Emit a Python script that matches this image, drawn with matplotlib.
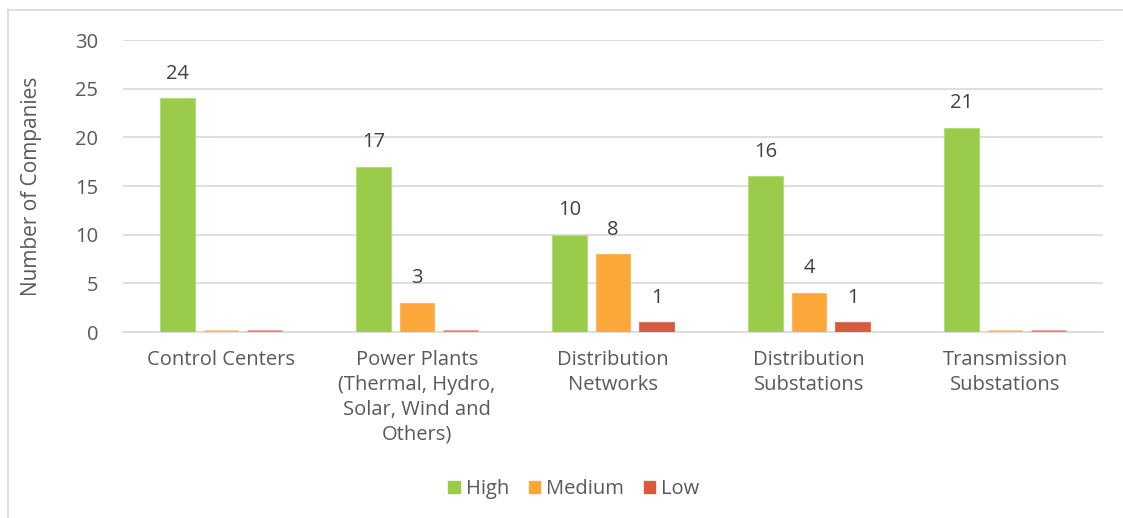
import matplotlib.pyplot as plt
import numpy as np
from matplotlib.lines import Line2D

categories = ['Control Centers', 'Power Plants\n(Thermal, Hydro,\nSolar, Wind and\nOthers)',
              'Distribution\nNetworks', 'Distribution\nSubstations', 'Transmission\nSubstations']
high = [24, 17, 10, 16, 21]
medium = [0, 3, 8, 4, 0]
low = [0, 0, 1, 1, 0]

series = [('High', high, '#9BCB4B', '#B5DC7A'),
          ('Medium', medium, '#FBA73A', '#FBB860'),
          ('Low', low, '#D65A3E', '#DC735C')]

plt.rcParams['font.family'] = ['Open Sans', 'DejaVu Sans']
grey = '#595959'
fs = 14.5

fig = plt.figure(figsize=(11.23, 5.18), dpi=100)
ax = fig.add_axes([123 / 1123, 1 - 332 / 518, 980 / 1123, 292 / 518])

x = np.arange(len(categories))
w = 0.174
step = 0.222
for i, (name, vals, col, edge) in enumerate(series):
    pos = x + (i - 1) * step
    for p, v in zip(pos, vals):
        if v == 0:
            # Excel keeps a faint stub for empty values
            ax.plot([p - w / 2, p + w / 2], [0.12, 0.12], color=col, lw=2, alpha=0.6,
                    solid_capstyle='butt', zorder=3)
        else:
            ax.bar(p, v, width=w, color=col, edgecolor=edge, linewidth=0.8, zorder=3)
            ax.text(p, v + 1.5, str(v), ha='center', va='bottom', fontsize=fs, color='#404040')

ax.set_xlim(-0.5, len(categories) - 0.5)
ax.set_ylim(0, 30)
ax.set_yticks(range(0, 31, 5))
ax.yaxis.grid(True, color='#D9D9D9', lw=1.2, zorder=0)
for s in ['top', 'right', 'left']:
    ax.spines[s].set_visible(False)
ax.spines['bottom'].set_color('#D9D9D9')
ax.spines['bottom'].set_linewidth(1.2)
ax.tick_params(length=0, colors=grey, labelsize=fs)
ax.tick_params(axis='y', pad=18)
ax.set_xticks(x)
ax.set_xticklabels(categories, fontsize=fs, color=grey, linespacing=1.33, va='top')
ax.tick_params(axis='x', pad=13)
ax.set_ylabel('Number of Companies', fontsize=fs + 0.5, color=grey)
ax.yaxis.set_label_coords(-(123 - 42) / 980, 0.5)

handles = [plt.Rectangle((0, 0), 1, 1, color=c) for _, _, c, _ in series]
fig.legend(handles, [s[0] for s in series], loc='center', bbox_to_anchor=(574 / 1123, 1 - 489 / 518),
           ncol=3, frameon=False, fontsize=fs, handlelength=0.55, handleheight=0.55,
           handletextpad=0.3, columnspacing=1.0, labelcolor=grey)

# chart border (top and left edges visible)
fig.add_artist(Line2D([8 / 1123, 1], [1 - 10 / 518, 1 - 10 / 518], color='#D9D9D9', lw=1.2))
fig.add_artist(Line2D([8 / 1123, 8 / 1123], [0, 1 - 10 / 518], color='#D9D9D9', lw=1.2))

fig.savefig('out.png', dpi=100)
